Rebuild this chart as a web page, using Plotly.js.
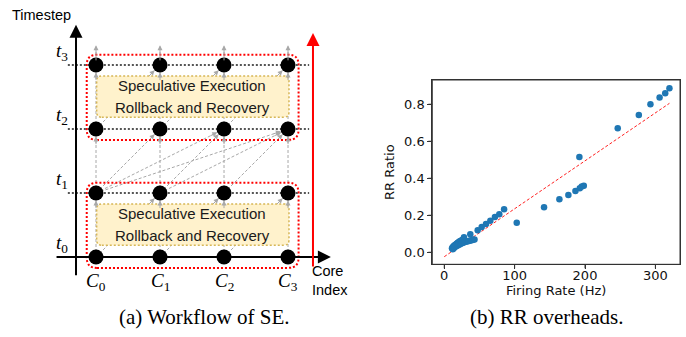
<!DOCTYPE html>
<html>
<head>
<meta charset="utf-8">
<script src="https://cdn.plot.ly/plotly-3.0.1.min.js"></script>
<style>html,body{margin:0;padding:0;background:#fff;}#chart{width:686px;height:337px;}</style>
</head>
<body>
<div id="chart"></div>
<script>
// ---------- (b) RR overheads data ----------
const firingRate = [320, 314, 306, 293, 276.5, 246.5, 192, 198.3, 195.4, 192.6, 186.4, 176.4, 163.6, 141.8, 103,
  85, 78.2, 72, 65.5, 59.3, 53.2, 47.5, 37, 28,
  11, 12, 13, 14, 15, 16, 17, 18, 19, 20, 21, 22, 24, 26,
  12, 13, 14, 15, 17, 19, 21, 23, 25, 27, 29, 31, 33, 35, 37, 39, 41, 43];
const rrRatio = [0.886, 0.859, 0.836, 0.80, 0.742, 0.67, 0.515, 0.36, 0.355, 0.346, 0.331, 0.31, 0.286, 0.243, 0.16,
  0.232, 0.205, 0.191, 0.171, 0.153, 0.137, 0.119, 0.097, 0.081,
  0.022, 0.027, 0.031, 0.035, 0.038, 0.041, 0.044, 0.047, 0.05, 0.053, 0.056, 0.059, 0.063, 0.068,
  0.017, 0.02, 0.024, 0.028, 0.033, 0.037, 0.041, 0.045, 0.049, 0.052, 0.055, 0.057, 0.059, 0.061, 0.063, 0.065, 0.067, 0.069];
const fitX = [0, 320];
const fitY = [-0.024, 0.805];
const xTicks = [0, 100, 200, 300];
const yTicks = [0, 0.2, 0.4, 0.6, 0.8];
const yTickText = ['0.0', '0.2', '0.4', '0.6', '0.8'];

// ---------- (a) Workflow diagram data ----------
const cores = [0, 1, 2, 3];
const coreLabels = ['C<sub>0</sub>', 'C<sub>1</sub>', 'C<sub>2</sub>', 'C<sub>3</sub>'];
const timesteps = [0, 1, 2, 3];
const timeLabels = ['t<sub>0</sub>', 't<sub>1</sub>', 't<sub>2</sub>', 't<sub>3</sub>'];
const phases = [[0, 1], [2, 3]];
const phaseText = ['Speculative Execution', 'Rollback and Recovery'];
const captions = ['(a) Workflow of SE.', '(b) RR overheads.'];

const GREY = '#a8a8a8';
const sans = 'Liberation Sans, Arial, sans-serif';
const serif = 'Liberation Serif, Times New Roman, serif';
const dv = 'DejaVu Sans, sans-serif';

const shapes = [];
const annotations = [];

function rrect(x0, y0, x1, y1, r) {
  return `M${x0 + r},${y0} L${x1 - r},${y0} Q${x1},${y0} ${x1},${y0 + r} L${x1},${y1 - r} Q${x1},${y1} ${x1 - r},${y1} L${x0 + r},${y1} Q${x0},${y1} ${x0},${y1 - r} L${x0},${y0 + r} Q${x0},${y0} ${x0 + r},${y0} Z`;
}

function greyArrow(x0, y0, x1, y1, stand) {
  shapes.push({type: 'line', xref: 'x2', yref: 'y2', x0: x0, y0: y0, x1: x1, y1: y1,
    line: {color: GREY, width: 1, dash: '3px,2px'}, layer: 'below'});
  const dx = x1 - x0, dy = y1 - y0, L = Math.hypot(dx, dy);
  const back = 0.26;
  annotations.push({xref: 'x2', yref: 'y2', axref: 'x2', ayref: 'y2', x: x1, y: y1,
    ax: x1 - dx / L * back, ay: y1 - dy / L * back, text: '', showarrow: true,
    arrowhead: 2, arrowsize: 1, arrowwidth: 1, arrowcolor: GREY, standoff: stand});
}

// vertical dependencies
cores.forEach(c => {
  for (let t = 0; t < timesteps.length - 1; t++) greyArrow(c, timesteps[t], c, timesteps[t + 1], 7.5);
  greyArrow(c, timesteps[3], c, timesteps[3] + 0.31, 0);
});
// diagonal dependencies inside phases
phases.forEach(p => {
  for (let i = 0; i < cores.length - 1; i++) greyArrow(cores[i], p[0], cores[i + 1], p[1], 7.5);
});
// between phases
for (let i = 0; i < cores.length; i++)
  for (let j = i + 1; j < cores.length; j++) greyArrow(cores[i], timesteps[1], cores[j], timesteps[2], 7.5);

// yellow boxes
phases.forEach(p => {
  shapes.push({type: 'path', xref: 'x2', yref: 'y2', path: rrect(cores[0] + 0.01, p[0] + 0.185, cores[3] + 0.015, p[1] - 0.17, 0.08),
    fillcolor: '#fff2cc', line: {color: '#d6b656', width: 1.5, dash: '2px,2px'}, layer: 'below'});
  const cy = (p[0] + 0.185 + p[1] - 0.17) / 2;
  annotations.push({xref: 'x2', yref: 'y2', x: 1.5, y: cy + 0.165, text: phaseText[0], showarrow: false,
    font: {family: sans, size: 15, color: '#1a1a1a'}});
  annotations.push({xref: 'x2', yref: 'y2', x: 1.5, y: cy - 0.165, text: phaseText[1], showarrow: false,
    font: {family: sans, size: 15, color: '#1a1a1a'}});
});
// red boxes
phases.forEach(p => {
  shapes.push({type: 'path', xref: 'x2', yref: 'y2', path: rrect(cores[0] - 0.145, p[0] - 0.17, cores[3] + 0.165, p[1] + 0.16, 0.16),
    line: {color: '#ff0000', width: 2, dash: '2px,2px'}, layer: 'below'});
});
// dotted timestep lines
timesteps.forEach(t => {
  shapes.push({type: 'line', xref: 'x2', yref: 'y2', x0: -0.44, x1: 3.33, y0: t, y1: t,
    line: {color: '#555555', width: 2, dash: '2px,2px'}, layer: 'below'});
});

// frame and tick marks of scatter panel
shapes.push({type: 'rect', xref: 'x domain', yref: 'y domain', x0: 0, x1: 1, y0: 0, y1: 1,
  line: {color: '#333', width: 1}, fillcolor: 'rgba(0,0,0,0)', layer: 'above'});
xTicks.forEach(v => shapes.push({type: 'line', xref: 'x', yref: 'y domain', x0: v, x1: v, y0: 0, y1: -0.022,
  line: {color: '#333', width: 1}, layer: 'above'}));
yTicks.forEach(v => shapes.push({type: 'line', xref: 'x domain', yref: 'y', x0: 0, x1: -0.016, y0: v, y1: v,
  line: {color: '#333', width: 1}, layer: 'above'}));

// axes of the diagram
annotations.push({xref: 'x2', yref: 'y2', axref: 'x2', ayref: 'y2', x: -0.3125, y: 3.63, ax: -0.3125, ay: -0.31,
  text: '', showarrow: true, arrowhead: 2, arrowsize: 1.3, arrowwidth: 2, arrowcolor: '#000'});
annotations.push({xref: 'x2', yref: 'y2', axref: 'x2', ayref: 'y2', x: 3.67, y: 0, ax: -0.64, ay: 0,
  text: '', showarrow: true, arrowhead: 2, arrowsize: 1.3, arrowwidth: 2, arrowcolor: '#000'});
annotations.push({xref: 'x2', yref: 'y2', axref: 'x2', ayref: 'y2', x: 3.39, y: 3.5, ax: 3.39, ay: -0.17,
  text: '', showarrow: true, arrowhead: 2, arrowsize: 1.3, arrowwidth: 2, arrowcolor: '#ff0000'});

// labels
timesteps.forEach((t, i) => annotations.push({xref: 'x2', yref: 'y2', x: -0.53, y: t + 0.2, text: '<i>' + timeLabels[i].replace('<sub>', '</i><sub>'),
  showarrow: false, font: {family: serif, size: 19, color: '#000'}}));
cores.forEach((c, i) => annotations.push({xref: 'x2', yref: 'y2', x: c, y: -0.39, text: '<i>' + coreLabels[i].replace('<sub>', '</i><sub>'),
  showarrow: false, font: {family: serif, size: 19, color: '#000'}}));
annotations.push({xref: 'x2', yref: 'y2', x: -1.344, y: 3.78, xanchor: 'left', text: 'Timestep', showarrow: false,
  font: {family: sans, size: 14.5, color: '#000'}});
annotations.push({xref: 'x2', yref: 'y2', x: 3.35, y: -0.225, xanchor: 'left', text: 'Core', showarrow: false,
  font: {family: sans, size: 14.5, color: '#000'}});
annotations.push({xref: 'x2', yref: 'y2', x: 3.35, y: -0.52, xanchor: 'left', text: 'Index', showarrow: false,
  font: {family: sans, size: 14.5, color: '#000'}});

// captions
annotations.push({xref: 'paper', yref: 'paper', x: 204 / 686, y: 1 - 317 / 337, xanchor: 'center', yanchor: 'middle',
  text: captions[0], showarrow: false, font: {family: serif, size: 21, color: '#000'}});
annotations.push({xref: 'paper', yref: 'paper', x: 546 / 686, y: 1 - 317 / 337, xanchor: 'center', yanchor: 'middle',
  text: captions[1], showarrow: false, font: {family: serif, size: 21, color: '#000'}});

// traces
const dotX = [], dotY = [];
timesteps.forEach(t => cores.forEach(c => { dotX.push(c); dotY.push(t); }));

const data = [
  {type: 'scatter', mode: 'markers', x: dotX, y: dotY, xaxis: 'x2', yaxis: 'y2',
    marker: {color: '#000', size: 15}, hoverinfo: 'skip', showlegend: false},
  {type: 'scatter', mode: 'lines', x: fitX, y: fitY, xaxis: 'x', yaxis: 'y',
    line: {color: '#ff2020', width: 1, dash: '3px,2px'}, showlegend: false},
  {type: 'scatter', mode: 'markers', x: firingRate, y: rrRatio, xaxis: 'x', yaxis: 'y',
    marker: {color: '#1f77b4', size: 6.5}, showlegend: false}
];

const axisCommon = {showgrid: false, zeroline: false, showline: true, mirror: true, linecolor: '#333333', linewidth: 1,
  ticks: 'outside', ticklen: 4, tickwidth: 1, tickcolor: '#333333', tickfont: {family: dv, size: 13, color: '#111'}};

const layout = {
  width: 686, height: 337, margin: {l: 0, r: 0, t: 0, b: 0}, paper_bgcolor: '#fff', plot_bgcolor: '#fff',
  showlegend: false,
  xaxis: Object.assign({}, axisCommon, {domain: [432.3 / 686, 680 / 686], range: [-17, 335], tickvals: xTicks,
    anchor: 'y', ticklabelstandoff: -5, title: {text: 'Firing Rate (Hz)', font: {family: dv, size: 13, color: '#111'}, standoff: 0}}),
  yaxis: Object.assign({}, axisCommon, {domain: [1 - 264.3 / 337, 1 - 80 / 337], range: [-0.065, 0.931], tickvals: yTicks,
    ticktext: yTickText, anchor: 'x', title: {text: 'RR Ratio', font: {family: dv, size: 13, color: '#111'}, standoff: 6}}),
  xaxis2: {domain: [0, 0.5], range: [-1.5, 3.859], visible: false, anchor: 'y2', fixedrange: true},
  yaxis2: {domain: [0, 1], range: [-1.25, 4.0156], visible: false, anchor: 'x2', fixedrange: true},
  shapes: shapes,
  annotations: annotations
};

Plotly.newPlot('chart', data, layout, {displayModeBar: false, staticPlot: true});
</script>
</body>
</html>
